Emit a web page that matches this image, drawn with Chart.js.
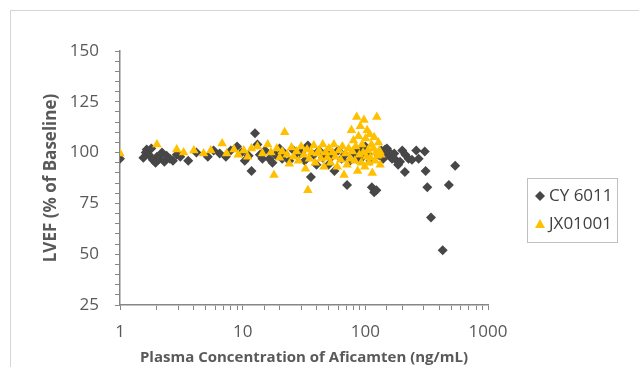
<!DOCTYPE html>
<html>
<head>
<meta charset="utf-8">
<script src="https://cdn.jsdelivr.net/npm/chart.js@4"></script>
<style>
  html, body { margin: 0; padding: 0; background: #fff; overflow: hidden; }
  #wrap { position: relative; width: 639px; height: 367px; }
  #frame { position: absolute; left: 10px; top: 10px; width: 700px; height: 400px; border: 1px solid #d4d4d4; box-sizing: border-box; }
  canvas { position: absolute; left: 0; top: 0; }
</style>
</head>
<body>
<div id="wrap">
  <div id="frame"></div>
  <canvas id="chart" width="639" height="367"></canvas>
</div>
<script>
// 血漿中濃度 vs LVEF
const seriesNames = ["CY 6011", "JX01001"];

const cyX = [1, 1.55, 1.62, 1.65, 1.72, 1.8, 1.85, 1.95, 2.0, 2.1, 2.2, 2.3, 2.4, 2.55, 2.7, 2.9, 3.1, 3.6, 4.2, 5.2, 5.8,
  6.5, 7.3, 8.0, 9.0, 9.8, 10.4, 11.2, 11.8, 12.6, 13.2, 13.8, 14.5, 15.2, 16.5, 17.5, 18.5, 20, 21, 22, 24,
  26, 28, 30, 32, 34, 36, 38, 40, 42, 45, 48, 50, 53, 56, 60, 64, 68, 71, 75, 80,
  85, 90, 95, 100, 105, 110, 113, 118, 123, 128, 135, 140, 145, 150, 155, 158, 165, 172, 180, 185, 192,
  200, 212, 210, 225, 240, 260, 272, 305, 310, 320, 343, 427, 480, 540];
const cyY = [97, 97.5, 100, 101.5, 99, 102, 96.5, 95, 98, 97, 100, 95.5, 98.5, 97, 96, 99, 98, 96, 100, 98, 101,
  99.5, 98, 101, 103, 100, 96, 98.5, 91, 109.5, 104, 99, 97, 101, 97, 95, 99, 102, 97, 99.5, 96,
  101, 98.5, 100, 96, 103.5, 88, 99, 94, 101, 97.5, 100, 94, 98, 91, 101, 97, 99, 84, 96, 100,
  97, 101.5, 98, 103, 99, 96, 83, 80.5, 81.5, 99, 101, 97, 101.5, 102, 99, 100, 97, 99.5, 96, 94, 95.5,
  101, 99, 90.5, 97, 96.5, 101, 97, 100.5, 91, 83, 68, 52, 84, 93.5];

const jxX = [1, 2.0, 2.9, 3.3, 4.0, 4.8, 5.5, 6.8, 7.4, 8.5, 9.2, 10.2, 11.0, 11.8, 13.2, 14.5, 16.0, 17.0, 18.0, 19.0,
  20, 21, 22, 23, 24, 25, 26, 27.5, 28.5, 30, 31.5, 32.5, 33.5, 34, 35, 36.5, 38, 39, 40.5, 42,
  43.5, 45, 46, 47.5, 49, 50.5, 52, 54, 55.5, 57, 59, 61, 63, 65, 67, 69, 71, 73, 75, 77,
  78.5, 80, 82, 83.5, 85, 86.5, 88, 89.5, 91, 92.5, 94, 96, 97.5, 99, 100.5, 102, 103.5, 105, 107, 108.5,
  110, 112, 114, 116, 118, 120, 122, 124, 126, 128, 130, 132, 134];
const jxY = [99.5, 104, 101.5, 100, 101, 99.5, 101, 104.5, 99.5, 101.5, 99, 101, 98, 102, 103, 99.5, 104, 100, 89, 102,
  97.5, 100.5, 110, 99, 94.5, 102.5, 98, 100.5, 96, 103, 99, 92, 101.5, 81.5, 97, 100, 103.5, 95, 99.5, 101,
  97, 104, 93, 100, 97.5, 102, 95, 100, 104, 98, 93, 101, 96.5, 103, 89, 99.5, 94, 102, 97, 111,
  100.5, 106, 96, 103, 117.5, 91, 108, 99, 113, 95, 104, 100, 116, 93, 107, 98, 111, 101, 95, 109,
  97.5, 104, 90, 102, 107.5, 96, 100, 117.5, 98.5, 105, 101, 94, 99];

const xLabels = [1, 10, 100, 1000];
const yLabels = [25, 50, 75, 100, 125, 150];

const toPoints = (xs, ys) => xs.map((x, i) => ({ x: x, y: ys[i] }));

const axisColor = "#868686";
const textColor = "#595959";
const colors = ["#474747", "#FFC000"];

// 枠付き凡例
const boxLegend = {
  id: "boxLegend",
  afterDraw(chart) {
    const { ctx } = chart;
    ctx.save();
    ctx.strokeStyle = "#c0c0c0";
    ctx.lineWidth = 1;
    ctx.strokeRect(527.5, 178.5, 90, 64);
    ctx.font = "17px 'Open Sans'";
    ctx.fillStyle = "#404040";
    ctx.textBaseline = "middle";
    ctx.fillText(seriesNames[0], 549, 196);
    ctx.fillText(seriesNames[1], 549, 224);
    ctx.fillStyle = colors[0];
    ctx.beginPath();
    ctx.moveTo(540, 191); ctx.lineTo(545, 196); ctx.lineTo(540, 201); ctx.lineTo(535, 196);
    ctx.closePath();
    ctx.fill();
    ctx.fillStyle = colors[1];
    ctx.beginPath();
    ctx.moveTo(540, 219); ctx.lineTo(545, 228); ctx.lineTo(535, 228);
    ctx.closePath();
    ctx.fill();
    ctx.restore();
  },
};

new Chart(document.getElementById("chart").getContext("2d"), {
  type: "scatter",
  data: {
    datasets: [
      {
        label: seriesNames[0],
        data: toPoints(cyX, cyY),
        pointStyle: "rectRot",
        pointRadius: 5,
        pointHoverRadius: 5,
        backgroundColor: colors[0],
        borderWidth: 0,
        order: 1,
      },
      {
        label: seriesNames[1],
        data: toPoints(jxX, jxY),
        pointStyle: "triangle",
        pointRadius: 5.5,
        pointHoverRadius: 5.5,
        backgroundColor: colors[1],
        borderWidth: 0,
        order: 0,
      },
    ],
  },
  options: {
    responsive: false,
    animation: false,
    layout: { padding: { left: 0, top: 51, right: 151, bottom: 0 } },
    plugins: {
      legend: { display: false },
      tooltip: { enabled: false },
    },
    scales: {
      x: {
        type: "logarithmic",
        min: 1,
        max: 1000,
        afterFit: (s) => { s.height = 62; },
        border: { color: axisColor, width: 1.5 },
        grid: { drawOnChartArea: false, drawTicks: true, tickLength: 5, color: axisColor },
        ticks: {
          autoSkip: false,
          maxRotation: 0,
          padding: 12,
          color: textColor,
          font: { family: "'Open Sans'", size: 17 },
          callback: (v) => (xLabels.includes(v) ? String(v) : ""),
        },
        title: {
          display: true,
          text: "Plasma Concentration of Aficamten (ng/mL)",
          color: textColor,
          font: { family: "'Open Sans'", size: 15, weight: "bold" },
          padding: { top: 0, bottom: 0 },
        },
      },
      y: {
        min: 25,
        max: 150,
        afterFit: (s) => { s.width = 120; },
        border: { color: axisColor, width: 1.5 },
        grid: { drawOnChartArea: false, drawTicks: true, tickLength: 5, color: axisColor },
        ticks: {
          stepSize: 5,
          autoSkip: false,
          padding: 16,
          color: textColor,
          font: { family: "'Open Sans'", size: 17 },
          callback: (v) => (yLabels.includes(v) ? String(v) : ""),
        },
        title: {
          display: true,
          text: "LVEF (% of Baseline)",
          color: textColor,
          font: { family: "'Open Sans'", size: 17, weight: "bold" },
          padding: { top: 41, bottom: 0 },
        },
      },
    },
  },
  plugins: [boxLegend],
});
</script>
</body>
</html>
